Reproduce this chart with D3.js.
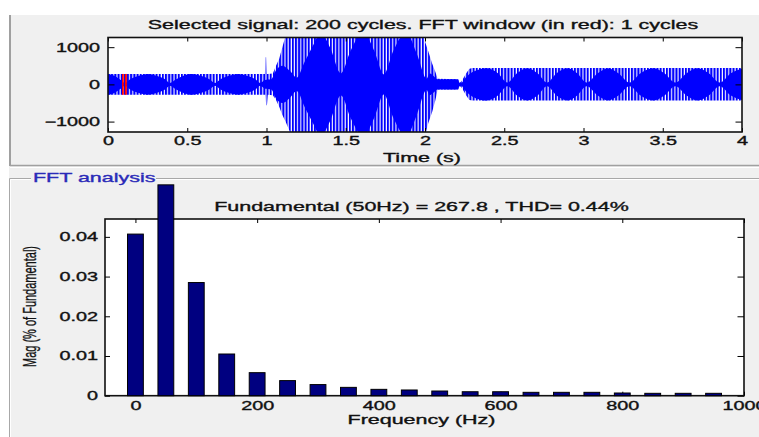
<!DOCTYPE html>
<html>
<head>
<meta charset="utf-8">
<script src="https://cdn.jsdelivr.net/npm/d3@7"></script>
<style>
  body { margin: 0; background: #fff; }
  svg { display: block; font-family: "Liberation Sans", Arial, sans-serif; }
</style>
</head>
<body>
<svg id="chart" width="759" height="437"></svg>
<script>
// --- selected signal ---
// outer extent of the 50 Hz waveform: [time s, top, bottom]
const outerEnvelope = [
  [0, 280, -280], [0.99, 280, -280], [0.993, 730, -280], [0.998, 730, -560],
  [1.003, 280, -560], [1.008, 280, -280], [1.04, 290, -290], [1.06, 500, -420],
  [1.08, 690, -600], [1.1, 1000, -820], [1.12, 1300, -1000], [1.15, 1400, -1300],
  [1.17, 1400, -1400], [1.98, 1400, -1400], [2.0, 1150, -1400], [2.02, 900, -1050],
  [2.045, 560, -740], [2.065, 340, -430], [2.08, 150, -140], [2.21, 140, -140],
  [2.225, 50, -50], [2.24, 150, -150], [2.26, 300, -300], [2.28, 420, -420],
  [2.3, 440, -430], [4.0, 440, -430]
];
// solid (dense) part of the trace: [time s, half height]
const innerEnvelope = [
  [0, 280], [0.04, 230], [0.08, 120], [0.107, 40], [0.14, 140], [0.2, 240], [0.25, 280],
  [0.3, 240], [0.36, 140], [0.39, 40], [0.43, 140], [0.48, 240], [0.53, 280], [0.58, 240],
  [0.64, 140], [0.675, 40], [0.71, 140], [0.77, 240], [0.82, 280], [0.87, 240], [0.93, 140],
  [0.96, 40], [0.99, 120], [1.03, 140], [1.06, 380], [1.1, 500], [1.15, 350], [1.19, 180],
  [1.24, 600], [1.3, 1100], [1.34, 1400], [1.4, 1000], [1.47, 300], [1.53, 900], [1.61, 1400],
  [1.68, 900], [1.74, 270], [1.8, 900], [1.88, 1400], [1.95, 800], [2.01, 150], [2.03, 290],
  [2.06, 200], [2.08, 140], [2.2, 140], [2.225, 30], [2.26, 200], [2.3, 330], [2.39, 435],
  [2.46, 300], [2.52, 50], [2.58, 300], [2.645, 435], [2.71, 300], [2.77, 50], [2.83, 300],
  [2.9, 435], [2.96, 300], [3.02, 50], [3.09, 300], [3.155, 435], [3.22, 300], [3.29, 50],
  [3.36, 300], [3.44, 435], [3.51, 300], [3.58, 50], [3.65, 300], [3.72, 435], [3.79, 300],
  [3.86, 50], [3.93, 300], [4.0, 420]
];
const fundamentalHz = 50;
const fftWindow = [0.088, 0.122];
const fftWindowAmp = 280;
const timeTicks = [0, 0.5, 1, 1.5, 2, 2.5, 3, 3.5, 4];
const ampTicks = [-1000, 0, 1000];

// --- FFT analysis ---
const freqs = [0, 50, 100, 150, 200, 250, 300, 350, 400, 450, 500, 550, 600, 650, 700, 750, 800, 850, 900, 950];
const mags = [0.0407, 0.0531, 0.0285, 0.0105, 0.0058, 0.0038, 0.0028, 0.0021, 0.0016, 0.00144,
  0.00118, 0.001, 0.001, 0.00085, 0.00085, 0.00085, 0.00068, 0.0006, 0.0006, 0.0006];
const freqTicks = [0, 200, 400, 600, 800, 1000];
const magTicks = [0, 0.01, 0.02, 0.03, 0.04];

const sigTitle = "Selected signal: 200 cycles. FFT window (in red): 1 cycles";
const fftTitle = "Fundamental (50Hz) = 267.8 , THD= 0.44%";

const SX = 1.65; // the screenshot text is drawn wide
const svg = d3.select("#chart");

function widen(sel) {
  sel.each(function () {
    const w = this.getComputedTextLength();
    d3.select(this)
      .attr("textLength", w * SX)
      .attr("lengthAdjust", "spacingAndGlyphs")
      .attr("stroke", this.getAttribute("fill") || "#111")
      .attr("stroke-width", 0.35);
  });
}

function label(x, y, text, size, anchor = "middle", fill = "#111") {
  const t = svg.append("text")
    .attr("x", x).attr("y", y)
    .attr("font-size", size)
    .attr("text-anchor", anchor)
    .attr("fill", fill)
    .text(text);
  widen(t);
  return t;
}

function styleAxis(g, size) {
  g.attr("font-family", null).attr("font-size", size);
  g.select(".domain").remove();
  g.selectAll(".tick line").attr("stroke", "#000").attr("stroke-width", 1);
  g.selectAll(".tick text").attr("fill", "#111");
}

// panel backgrounds and frames
svg.append("rect").attr("x", 9).attr("y", 15).attr("width", 750).attr("height", 422).attr("fill", "#f0f0f0");
svg.append("line").attr("x1", 10).attr("x2", 10).attr("y1", 15).attr("y2", 166)
  .attr("stroke", "#a0a0a0").attr("stroke-width", 2);
svg.append("line").attr("x1", 10).attr("x2", 759).attr("y1", 165.5).attr("y2", 165.5)
  .attr("stroke", "#a0a0a0").attr("stroke-width", 1.5);
svg.append("line").attr("x1", 10).attr("x2", 759).attr("y1", 167.5).attr("y2", 167.5)
  .attr("stroke", "#fff").attr("stroke-width", 1);
const frame = svg.append("g").attr("stroke", "#a8a8a8").attr("fill", "none");
frame.append("path").attr("d", "M31,178.5H9.5V437");
frame.append("path").attr("d", "M156,178.5H759");
const frameHi = svg.append("g").attr("stroke", "#fff").attr("fill", "none");
frameHi.append("path").attr("d", "M31,179.5H10.5V437");
frameHi.append("path").attr("d", "M156,179.5H759");

// ---------- top plot: selected signal ----------
const sigBox = { left: 108, right: 742, top: 37.5, bottom: 132 };
const x1 = d3.scaleLinear().domain([0, 4]).range([sigBox.left, sigBox.right]);
const y1 = d3.scaleLinear().domain([-1280, 1260]).range([sigBox.bottom, sigBox.top]);

svg.append("rect")
  .attr("x", sigBox.left).attr("y", sigBox.top)
  .attr("width", sigBox.right - sigBox.left).attr("height", sigBox.bottom - sigBox.top)
  .attr("fill", "#fff");

const defs = svg.append("defs");
defs.append("clipPath").attr("id", "sig-clip")
  .append("rect")
  .attr("x", sigBox.left).attr("y", sigBox.top)
  .attr("width", sigBox.right - sigBox.left).attr("height", sigBox.bottom - sigBox.top);

// one stroke per cycle of the fundamental
const cycleW = x1(1 / fundamentalHz) - x1(0);
function stripes(id, color, w, x0) {
  defs.append("pattern").attr("id", id)
    .attr("patternUnits", "userSpaceOnUse")
    .attr("x", x0).attr("y", 0)
    .attr("width", cycleW).attr("height", 437)
    .append("rect").attr("width", w).attr("height", 437).attr("fill", color);
}
stripes("blue-stripes", "#0000ff", 2.05, sigBox.left);
stripes("red-stripes", "#ff0000", 2, x1(fftWindow[0]));

const sig = svg.append("g").attr("clip-path", "url(#sig-clip)");

const outerArea = d3.area()
  .x(d => x1(d[0]))
  .y0(d => y1(d[2]))
  .y1(d => y1(d[1]));
sig.append("path").datum(outerEnvelope).attr("d", outerArea).attr("fill", "url(#blue-stripes)");

const innerArea = d3.area()
  .x(d => x1(d[0]))
  .y0(d => y1(-d[1]))
  .y1(d => y1(d[1]))
  .curve(d3.curveMonotoneX);
sig.append("path").datum(innerEnvelope).attr("d", innerArea).attr("fill", "#0000ff");

sig.append("rect")
  .attr("x", x1(fftWindow[0])).attr("y", y1(fftWindowAmp))
  .attr("width", x1(fftWindow[1]) - x1(fftWindow[0]))
  .attr("height", y1(-fftWindowAmp) - y1(fftWindowAmp))
  .attr("fill", "url(#red-stripes)");

const fmt = d3.format("");
const gx1 = svg.append("g").attr("transform", `translate(0,${sigBox.bottom})`)
  .call(d3.axisBottom(x1).tickValues(timeTicks).tickSize(-4).tickPadding(4.5).tickFormat(fmt));
styleAxis(gx1, 12);
const gx1t = svg.append("g").attr("transform", `translate(0,${sigBox.top})`)
  .call(d3.axisTop(x1).tickValues(timeTicks).tickSize(-4).tickFormat(""));
styleAxis(gx1t, 12);
const gy1 = svg.append("g").attr("transform", `translate(${sigBox.left},0)`)
  .call(d3.axisLeft(y1).tickValues(ampTicks).tickSize(-6.5).tickPadding(8).tickFormat(fmt));
styleAxis(gy1, 12);
const gy1r = svg.append("g").attr("transform", `translate(${sigBox.right},0)`)
  .call(d3.axisRight(y1).tickValues(ampTicks).tickSize(-6.5).tickFormat(""));
styleAxis(gy1r, 12);
gx1.selectAll("text").call(widen);
gy1.selectAll("text").call(widen);

svg.append("rect")
  .attr("x", sigBox.left).attr("y", sigBox.top)
  .attr("width", sigBox.right - sigBox.left).attr("height", sigBox.bottom - sigBox.top)
  .attr("fill", "none").attr("stroke", "#111").attr("stroke-width", 1.6);

label((sigBox.left + sigBox.right) / 2 - 2, 29.3, sigTitle, 13);
label((sigBox.left + sigBox.right) / 2 - 3, 161.5, "Time (s)", 13);

// ---------- bottom plot: FFT analysis ----------
label(33, 182.3, "FFT analysis", 13, "start", "#2a2ab8");

const fftBox = { left: 105, right: 744, top: 219, bottom: 395.7 };
const x2 = d3.scaleLinear().domain([-50, 1000]).range([fftBox.left, fftBox.right]);
const y2 = d3.scaleLinear().domain([0, 0.0445]).range([fftBox.bottom, fftBox.top]);

svg.append("rect")
  .attr("x", fftBox.left).attr("y", fftBox.top)
  .attr("width", fftBox.right - fftBox.left).attr("height", fftBox.bottom - fftBox.top)
  .attr("fill", "#fff").attr("stroke", "#111").attr("stroke-width", 1.6);

const gx2 = svg.append("g").attr("transform", `translate(0,${fftBox.bottom})`)
  .call(d3.axisBottom(x2).tickValues(freqTicks).tickSize(-4).tickPadding(6).tickFormat(fmt));
styleAxis(gx2, 12);
const gx2t = svg.append("g").attr("transform", `translate(0,${fftBox.top})`)
  .call(d3.axisTop(x2).tickValues(freqTicks).tickSize(-4).tickFormat(""));
styleAxis(gx2t, 12);
const gy2 = svg.append("g").attr("transform", `translate(${fftBox.left},0)`)
  .call(d3.axisLeft(y2).tickValues(magTicks).tickSize(-5).tickPadding(7).tickFormat(fmt));
styleAxis(gy2, 12);
const gy2r = svg.append("g").attr("transform", `translate(${fftBox.right},0)`)
  .call(d3.axisRight(y2).tickValues(magTicks).tickSize(-6.5).tickFormat(""));
styleAxis(gy2r, 12);
gx2.selectAll("text").call(widen);
gy2.selectAll("text").call(widen);

const barW = x2(13) - x2(-13);
svg.append("g").selectAll("rect")
  .data(freqs)
  .join("rect")
  .attr("x", d => x2(d) - barW / 2)
  .attr("y", (d, i) => y2(mags[i]))
  .attr("width", barW)
  .attr("height", (d, i) => y2(0) - y2(mags[i]))
  .attr("fill", "#000080")
  .attr("stroke", "#000")
  .attr("stroke-width", 1);

label((fftBox.left + fftBox.right) / 2 - 3, 210.7, fftTitle, 13);
label((fftBox.left + fftBox.right) / 2 - 3, 424.3, "Frequency (Hz)", 13);

svg.append("text")
  .attr("transform", `translate(36,306.5) scale(${SX},1) rotate(-90)`)
  .attr("font-size", 11)
  .attr("text-anchor", "middle")
  .attr("fill", "#111")
  .attr("stroke", "#111")
  .attr("stroke-width", 0.2)
  .text("Mag (% of Fundamental)");
</script>
</body>
</html>
